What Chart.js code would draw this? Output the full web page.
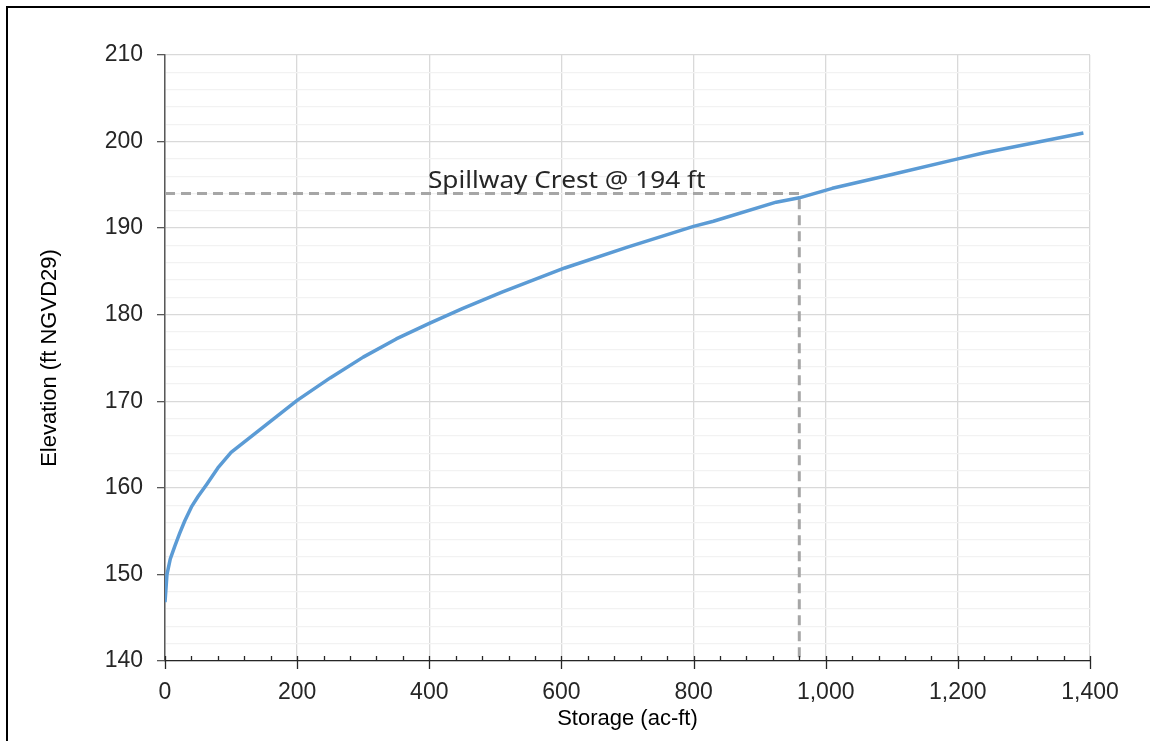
<!DOCTYPE html>
<html>
<head>
<meta charset="utf-8">
<title>Stage-Storage Curve</title>
<script src="https://cdn.jsdelivr.net/npm/chart.js@4.4.1/dist/chart.umd.min.js"></script>
<style>
  html, body { margin: 0; padding: 0; background: #fff; }
  body { width: 1150px; height: 741px; overflow: hidden; position: relative; }
  #frame { position: absolute; left: 6px; top: 6px; width: 1200px; height: 800px;
           border-left: 2px solid #000; border-top: 2px solid #000; }
  #myChart { position: absolute; left: 0; top: 0; }
</style>
</head>
<body>
<div id="frame"></div>
<canvas id="myChart" width="1150" height="741"></canvas>
<script>
// storage (ac-ft) vs elevation (ft NGVD29)
var storage   = [0, 3, 8, 15, 22, 30, 40, 50, 63, 80, 100, 150, 200, 250, 300, 350, 400, 450, 510, 605, 700, 800, 830, 925, 960, 1010, 1100, 1200, 1240, 1390];
var elevation = [146.8, 150.0, 151.8, 153.3, 154.7, 156.2, 157.8, 159.0, 160.4, 162.3, 164.1, 167.1, 170.1, 172.7, 175.1, 177.2, 179.0, 180.7, 182.6, 185.4, 187.8, 190.2, 190.8, 193.0, 193.5, 194.6, 196.2, 198.0, 198.7, 201.0];

var crestStorage = 960;
var crestElev = 194;
var crestLabel = 'Spillway Crest @ 194 ft';

var xMin = 0, xMax = 1400, xMajor = 200, xMinor = 40;
var yMin = 140, yMax = 210, yMajor = 10, yMinor = 2;

var curvePoints = [];
for (let i = 0; i < storage.length; i++) {
    curvePoints.push({x: storage[i], y: elevation[i]});
}
var crestPoints = [
    {x: xMin, y: crestElev},
    {x: crestStorage, y: crestElev},
    {x: crestStorage, y: yMin}
];

function isMajor(v, step) {
    return Math.abs(Math.round(v) % step) === 0;
}

// little tick marks on the x axis (minor above the line, major crossing it)
const xTickMarks = {
    id: 'xTickMarks',
    afterDraw(chart) {
        const ctx = chart.ctx;
        const xs = chart.scales.x;
        const y0 = chart.chartArea.bottom;
        ctx.save();
        ctx.strokeStyle = '#262626';
        ctx.lineWidth = 1.3;
        xs.ticks.forEach(t => {
            const px = Math.round(xs.getPixelForValue(t.value)) + 0.5;
            ctx.beginPath();
            ctx.moveTo(px, y0 - 5);
            ctx.lineTo(px, isMajor(t.value, xMajor) ? y0 + 8 : y0);
            ctx.stroke();
        });
        ctx.restore();
    }
};

// text above the dashed crest line
const crestText = {
    id: 'crestText',
    afterDatasetsDraw(chart) {
        const ctx = chart.ctx;
        const px = chart.scales.x.getPixelForValue(398);
        const py = chart.scales.y.getPixelForValue(crestElev);
        ctx.save();
        ctx.font = '23px "Noto Sans", "Open Sans", sans-serif';
        ctx.fillStyle = '#262626';
        ctx.textAlign = 'left';
        ctx.textBaseline = 'alphabetic';
        ctx.translate(px, py - 6);
        ctx.scale(1.14, 1);
        ctx.fillText(crestLabel, 0, 0);
        ctx.restore();
    }
};

const tickFont = {family: '"Liberation Sans", Arial, sans-serif', size: 23};
const titleFont = {family: '"Liberation Sans", Arial, sans-serif', size: 22};

const ctx = document.getElementById('myChart').getContext('2d');
const myChart = new Chart(ctx, {
    type: 'line',
    data: {
        datasets: [
            {
                label: 'Stage-Storage',
                data: curvePoints,
                borderColor: '#5b9bd5',
                borderWidth: 3.5,
                pointRadius: 0,
                tension: 0,
                borderJoinStyle: 'round',
                fill: false
            },
            {
                label: 'Spillway Crest',
                data: crestPoints,
                borderColor: '#a6a6a6',
                borderWidth: 3,
                borderDash: [10, 6],
                pointRadius: 0,
                tension: 0,
                fill: false
            }
        ]
    },
    options: {
        responsive: false,
        devicePixelRatio: 1,
        animation: false,
        layout: { padding: {top: 55, right: 60, left: 0, bottom: 0} },
        plugins: {
            legend: { display: false },
            tooltip: { enabled: false }
        },
        scales: {
            x: {
                type: 'linear',
                min: xMin,
                max: xMax,
                afterFit(scale) { scale.height = 80; },
                border: { color: '#262626', width: 1.3 },
                grid: {
                    color: c => isMajor(c.tick.value, xMajor) ? '#d9d9d9' : 'rgba(0,0,0,0)',
                    lineWidth: 1.3,
                    drawTicks: true,
                    tickLength: 8,
                    tickColor: 'rgba(0,0,0,0)'
                },
                ticks: {
                    stepSize: xMinor,
                    autoSkip: false,
                    maxRotation: 0,
                    padding: 10,
                    color: '#262626',
                    font: tickFont,
                    callback: v => isMajor(v, xMajor) ? Math.round(v).toLocaleString('en-US') : ''
                },
                title: {
                    display: true,
                    text: 'Storage (ac-ft)',
                    color: '#000',
                    font: titleFont,
                    padding: {top: 0, bottom: 9}
                }
            },
            y: {
                type: 'linear',
                min: yMin,
                max: yMax,
                afterFit(scale) { scale.width = 165; },
                border: { color: '#595959', width: 1.5 },
                grid: {
                    color: c => isMajor(c.tick.value, yMajor) ? '#d9d9d9' : '#f2f2f2',
                    lineWidth: 1.3,
                    tickLength: 8,
                    tickColor: c => isMajor(c.tick.value, yMajor) ? '#595959' : 'rgba(0,0,0,0)'
                },
                ticks: {
                    stepSize: yMinor,
                    autoSkip: false,
                    padding: 14,
                    color: '#262626',
                    font: tickFont,
                    callback: v => isMajor(v, yMajor) ? Math.round(v).toString() : ''
                },
                title: {
                    display: true,
                    text: 'Elevation (ft NGVD29)',
                    color: '#000',
                    font: titleFont,
                    padding: {top: 37, bottom: 0}
                }
            }
        }
    },
    plugins: [xTickMarks, crestText]
});
</script>
</body>
</html>
